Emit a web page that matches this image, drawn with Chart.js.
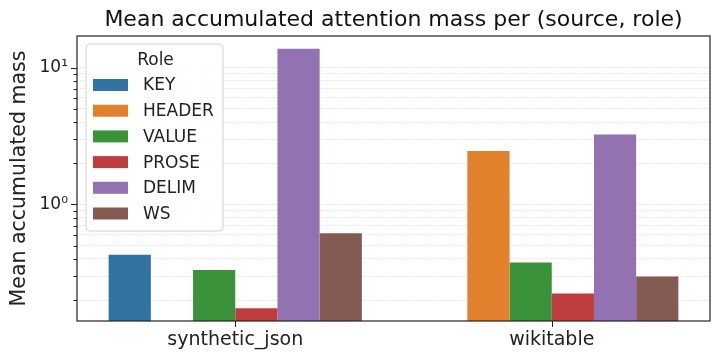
<!DOCTYPE html>
<html>
<head>
<meta charset="utf-8">
<script src="https://cdn.jsdelivr.net/npm/chart.js@4/dist/chart.umd.min.js"></script>
<style>
  html, body { margin: 0; padding: 0; background: #fff; }
  #wrap { width: 720px; height: 361px; position: relative; }
</style>
</head>
<body>
<div id="wrap"><canvas id="myChart" width="720" height="361"></canvas></div>
<script>
// sources on the x axis, one bar per role
const sources = ['synthetic_json', 'wikitable'];
const roles = ['KEY', 'HEADER', 'VALUE', 'PROSE', 'DELIM', 'WS'];
const roleColors = ['#3274a1', '#e1812c', '#3a923a', '#c03d3e', '#9372b2', '#845b53'];

// mean accumulated mass (null = no bar)
const keyMass    = [0.43, null];
const headerMass = [null, 2.46];
const valueMass  = [0.333, 0.377];
const proseMass  = [0.175, 0.224];
const delimMass  = [13.7, 3.24];
const wsMass     = [0.617, 0.298];

// log axis ticks
const majorTicks = [1, 10];
const minorTicks = [0.2, 0.3, 0.4, 0.5, 0.6, 0.7, 0.8, 0.9, 2, 3, 4, 5, 6, 7, 8, 9];
const majorLabels = { 1: '10\u2070', 10: '10\u00b9' };

const chartTitle = 'Mean accumulated attention mass per (source, role)';
const font = 'DejaVu Sans';

const series = [keyMass, headerMass, valueMass, proseMass, delimMass, wsMass];

const chartData = {
    labels: sources,
    datasets: roles.map((r, i) => ({
        label: r,
        data: series[i],
        backgroundColor: roleColors[i],
        borderWidth: 0,
        categoryPercentage: 0.8,
        barPercentage: 1.0
    }))
};

// title over the plot, frame, tick marks and the in-plot legend
const decorations = {
    id: 'decorations',
    afterDraw(chart) {
        const ctx = chart.ctx;
        const a = chart.chartArea;
        const y = chart.scales.y;
        const x = chart.scales.x;
        ctx.save();

        ctx.fillStyle = '#111';
        ctx.font = '22px "' + font + '"';
        ctx.textAlign = 'center';
        ctx.textBaseline = 'middle';
        ctx.fillText(chartTitle, (a.left + a.right) / 2, 20);

        ctx.strokeStyle = '#222';
        ctx.lineWidth = 1.2;
        ctx.strokeRect(a.left, a.top, a.right - a.left, a.bottom - a.top);

        ctx.lineWidth = 1;
        y.ticks.forEach(t => {
            const py = Math.round(y.getPixelForValue(t.value)) + 0.5;
            const len = majorTicks.includes(t.value) ? 6 : 3.5;
            ctx.beginPath();
            ctx.moveTo(a.left - len, py);
            ctx.lineTo(a.left, py);
            ctx.stroke();
        });
        sources.forEach((s, i) => {
            const px = Math.round(x.getPixelForValue(i)) + 0.5;
            ctx.beginPath();
            ctx.moveTo(px, a.bottom);
            ctx.lineTo(px, a.bottom + 6);
            ctx.stroke();
        });

        // legend box
        const lx = a.left + 9, ly = a.top + 8, lw = 137, lh = 187;
        ctx.fillStyle = 'rgba(255,255,255,0.85)';
        ctx.strokeStyle = '#d0d0d0';
        ctx.beginPath();
        ctx.roundRect(lx, ly, lw, lh, 4);
        ctx.fill();
        ctx.stroke();

        ctx.fillStyle = '#222';
        ctx.font = '17px "' + font + '"';
        ctx.textAlign = 'center';
        ctx.fillText('Role', lx + lw / 2 + 1, ly + 17);
        ctx.textAlign = 'left';
        roles.forEach((r, i) => {
            const cy = ly + 41 + i * 25.7;
            ctx.fillStyle = roleColors[i];
            ctx.fillRect(lx + 7, cy - 6, 35, 12);
            ctx.fillStyle = '#222';
            ctx.fillText(r, lx + 57, cy + 1);
        });
        ctx.restore();
    }
};

const config = {
    type: 'bar',
    data: chartData,
    options: {
        responsive: false,
        animation: false,
        layout: { padding: { left: 0, right: 10, top: 36, bottom: 0 } },
        plugins: {
            legend: { display: false },
            tooltip: { enabled: false },
            title: { display: false }
        },
        scales: {
            x: {
                offset: true,
                grid: { display: false, drawTicks: false },
                border: { display: false },
                ticks: {
                    color: '#222',
                    padding: 8,
                    font: { family: font, size: 19 }
                },
                afterFit: (scale) => { scale.height = 40; }
            },
            y: {
                type: 'logarithmic',
                min: 0.141,
                max: 17,
                afterBuildTicks: (scale) => {
                    scale.ticks = majorTicks.concat(minorTicks)
                        .sort((p, q) => p - q)
                        .map(v => ({ value: v }));
                },
                grid: {
                    drawTicks: false,
                    color: '#d9d9d9',
                    lineWidth: 0.8
                },
                border: { display: false, dash: [1.5, 1.5] },
                ticks: {
                    color: '#222',
                    padding: 9,
                    autoSkip: false,
                    font: { family: font, size: 17 },
                    callback: (v) => majorLabels[v] || ''
                },
                title: {
                    display: true,
                    text: 'Mean accumulated mass',
                    color: '#222',
                    font: { family: font, size: 20.5 },
                    padding: { top: 7, bottom: 0 }
                },
                afterFit: (scale) => { scale.width = 77; }
            }
        }
    },
    plugins: [decorations]
};

const myChart = new Chart(document.getElementById('myChart'), config);
</script>
</body>
</html>
